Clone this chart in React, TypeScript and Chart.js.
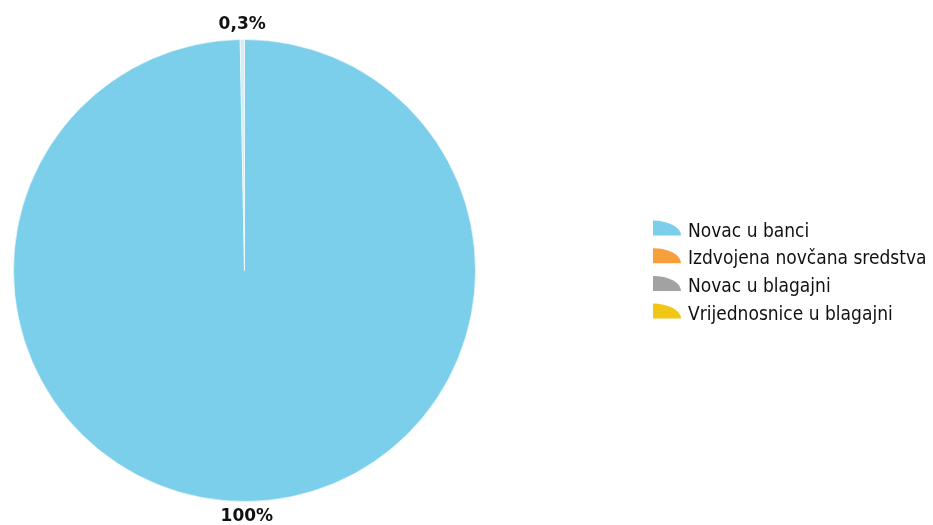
import React, { useEffect, useRef } from "react";
import { Chart, registerables } from "chart.js";

Chart.register(...registerables);

const categories = [
  "Novac u banci",
  "Izdvojena novčana sredstva",
  "Novac u blagajni",
  "Vrijednosnice u blagajni",
];
const shares = [99.7, 0, 0.3, 0];
const sliceLabels = ["100%", "", "0,3%", ""];
const sliceColors = ["#7ccfea", "#f5a03a", "#d2eef8", "#f2c614"];
const legendColors = ["#7ccfea", "#f5a03a", "#a2a2a2", "#f2c614"];

const LEGEND_FONT = "19px 'DejaVu Sans Condensed', 'DejaVu Sans', sans-serif";
const LABEL_FONT = "bold 17px 'DejaVu Sans', sans-serif";

const overlayPlugin = {
  id: "overlay",
  afterDraw(chart: any) {
    const ctx = chart.ctx as CanvasRenderingContext2D;
    const meta = chart.getDatasetMeta(0);
    ctx.save();
    // slice labels outside the pie
    ctx.font = LABEL_FONT;
    ctx.fillStyle = "#111";
    ctx.textAlign = "center";
    ctx.textBaseline = "middle";
    meta.data.forEach((arc: any, i: number) => {
      const txt = sliceLabels[i];
      if (!txt) return;
      const p = arc.getProps(["x", "y", "startAngle", "endAngle", "outerRadius"], true);
      const mid = (p.startAngle + p.endAngle) / 2;
      const r = p.outerRadius + 15;
      ctx.fillText(txt, p.x + Math.cos(mid) * r, p.y + Math.sin(mid) * r);
    });
    // legend
    const x0 = 653;
    const baseline0 = 236.5;
    const pitch = 27.7;
    ctx.textAlign = "left";
    ctx.textBaseline = "alphabetic";
    ctx.font = LEGEND_FONT;
    categories.forEach((c, i) => {
      const yb = baseline0 + i * pitch;
      ctx.fillStyle = legendColors[i];
      ctx.beginPath();
      ctx.moveTo(x0, yb - 1);
      ctx.ellipse(x0, yb - 1, 28, 15, 0, -Math.PI / 2, 0, false);
      ctx.closePath();
      ctx.fill();
      ctx.fillStyle = "#111";
      ctx.fillText(c, 688, yb);
    });
    ctx.restore();
  },
};

export default function App() {
  const ref = useRef<HTMLCanvasElement | null>(null);
  useEffect(() => {
    document.body.style.margin = "0";
    const canvas = ref.current!;
    const chart = new Chart(canvas, {
      type: "pie",
      data: {
        labels: categories,
        datasets: [
          {
            data: shares,
            backgroundColor: sliceColors,
            borderColor: "rgba(255,255,255,0.55)",
            borderWidth: 1,
          },
        ],
      },
      options: {
        animation: false,
        responsive: false,
        devicePixelRatio: 1,
        layout: { padding: { left: 13, right: 457, top: 39, bottom: 23 } },
        plugins: {
          legend: { display: false },
          tooltip: { enabled: false },
        },
      },
      plugins: [overlayPlugin],
    });
    return () => chart.destroy();
  }, []);
  return (
    <div style={{ width: 933, height: 525, background: "#fff" }}>
      <canvas ref={ref} width={933} height={525} style={{ display: "block" }} />
    </div>
  );
}
